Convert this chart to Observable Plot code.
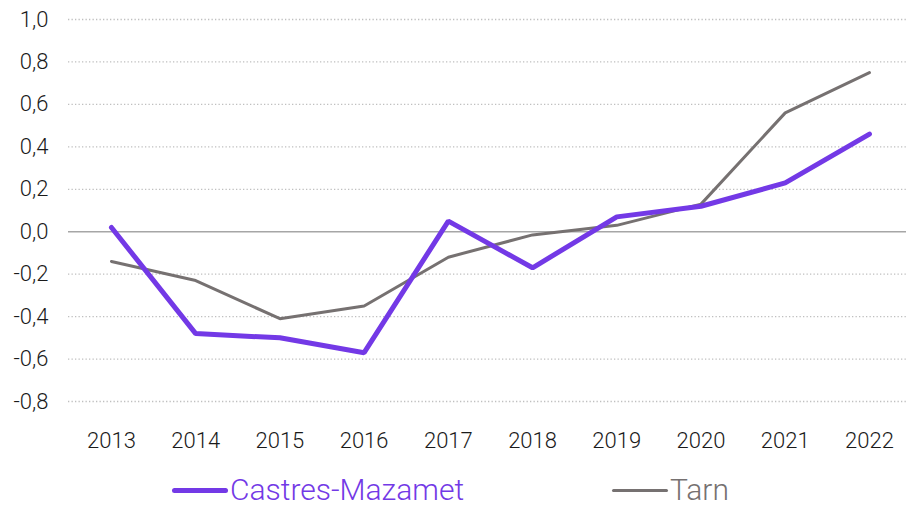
<!DOCTYPE html>
<html>
<head>
<meta charset="utf-8">
<script src="https://cdn.jsdelivr.net/npm/d3@7"></script>
<script src="https://cdn.jsdelivr.net/npm/@observablehq/plot@0.6"></script>
<style>
  html, body { margin: 0; padding: 0; background: #fff; }
  #wrap { position: relative; width: 906px; height: 508px; font-family: Roboto, sans-serif; }
  #legend { position: absolute; left: 0; top: 475px; width: 906px; height: 30px; }
  .item { position: absolute; top: 0; display: flex; align-items: center; height: 30px; line-height: 30px; font-weight: 300; font-size: 30px; }
  .sw { display: inline-block; width: 56px; border-radius: 3px; margin-right: 2px; }
</style>
</head>
<body>
<div id="wrap">
  <div id="chart"></div>
  <div id="legend"></div>
</div>
<script>
const years = [2013, 2014, 2015, 2016, 2017, 2018, 2019, 2020, 2021, 2022];
const castres = [0.02, -0.48, -0.50, -0.57, 0.05, -0.17, 0.07, 0.12, 0.23, 0.46];
const tarn = [-0.14, -0.23, -0.41, -0.35, -0.12, -0.015, 0.03, 0.13, 0.56, 0.75];
const yTicks = [-0.8, -0.6, -0.4, -0.2, 0.0, 0.2, 0.4, 0.6, 0.8, 1.0];
const seriesNames = ["Castres-Mazamet", "Tarn"];
const colors = ["#7339e6", "#767171"];
const widths = [5, 3];

const rows = [];
years.forEach((yr, i) => {
  rows.push({ year: yr, value: castres[i], series: seriesNames[0] });
  rows.push({ year: yr, value: tarn[i], series: seriesNames[1] });
});

const fmt = d => (Math.abs(d) < 1e-9 ? 0 : d).toFixed(1).replace(".", ",");

const chart = Plot.plot({
  width: 906,
  height: 470,
  marginLeft: 68,
  marginRight: 0,
  marginTop: 19,
  marginBottom: 69,
  style: { fontFamily: "Roboto, sans-serif", fontSize: "22px", fontWeight: 300, color: "#1a1a1a", background: "#fff" },
  x: { type: "linear", domain: [2012.49, 2022.44], ticks: years, tickFormat: d => String(d), tickSize: 0, tickPadding: 31, label: null },
  y: { domain: [-0.8, 1.0], ticks: yTicks, tickFormat: fmt, tickSize: 0, tickPadding: 20, label: null },
  marks: [
    Plot.ruleY(yTicks.filter(t => Math.abs(t) > 1e-9), { stroke: "#bfbfbf", strokeWidth: 1.3, strokeDasharray: "1.3,2.2" }),
    Plot.ruleY([0], { stroke: "#a6a6a6", strokeWidth: 1.5 }),
    Plot.line(rows.filter(r => r.series === seriesNames[1]), { x: "year", y: "value", stroke: colors[1], strokeWidth: widths[1], strokeLinejoin: "miter", strokeLinecap: "round" }),
    Plot.line(rows.filter(r => r.series === seriesNames[0]), { x: "year", y: "value", stroke: colors[0], strokeWidth: widths[0], strokeLinejoin: "miter", strokeLinecap: "round" })
  ]
});
document.getElementById("chart").appendChild(chart);

const legend = document.getElementById("legend");
const lefts = [172, 612];
seriesNames.forEach((name, i) => {
  const item = document.createElement("div");
  item.className = "item";
  item.style.left = lefts[i] + "px";
  item.style.color = colors[i];
  const sw = document.createElement("span");
  sw.className = "sw";
  sw.style.height = widths[i] + "px";
  sw.style.background = colors[i];
  item.appendChild(sw);
  const t = document.createElement("span");
  t.textContent = name;
  item.appendChild(t);
  legend.appendChild(item);
});
</script>
</body>
</html>
